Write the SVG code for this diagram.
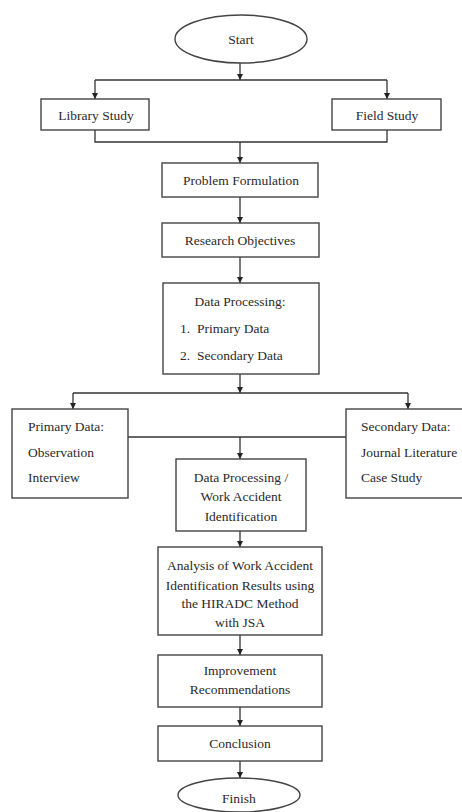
<svg xmlns="http://www.w3.org/2000/svg" width="462" height="812" viewBox="0 0 462 812">
<style>
.box{fill:#fff;stroke:#444;stroke-width:1.4}
.t{font-family:"Liberation Serif","Times New Roman",serif;font-size:13.5px;fill:#2a2a2a;text-anchor:middle}
.l{text-anchor:start}
.c{fill:none;stroke:#333;stroke-width:1.3}
</style>
<defs>
<marker id="ah" viewBox="0 0 10 10" refX="10" refY="5" markerWidth="6" markerHeight="6" markerUnits="userSpaceOnUse" orient="auto">
<path d="M0,0 L10,5 L0,10 z" fill="#222"/>
</marker>
</defs>
<rect width="462" height="812" fill="#fff"/>
<g id="connectors">
<path class="c" d="M240,63 V80" marker-end="url(#ah)"/>
<path class="c" d="M95,80 H387"/>
<path class="c" d="M95,80 V99" marker-end="url(#ah)"/>
<path class="c" d="M387,80 V99" marker-end="url(#ah)"/>
<path class="c" d="M95,130 V142 H387 V130"/>
<path class="c" d="M240,142 V163" marker-end="url(#ah)"/>
<path class="c" d="M240,197 V223" marker-end="url(#ah)"/>
<path class="c" d="M240,257 V283" marker-end="url(#ah)"/>
<path class="c" d="M240,374 V393" marker-end="url(#ah)"/>
<path class="c" d="M73,393 H408"/>
<path class="c" d="M73,393 V409" marker-end="url(#ah)"/>
<path class="c" d="M408,393 V409" marker-end="url(#ah)"/>
<path class="c" d="M128,437 H346"/>
<path class="c" d="M240,437 V459" marker-end="url(#ah)"/>
<path class="c" d="M240,531 V547" marker-end="url(#ah)"/>
<path class="c" d="M240,635 V655" marker-end="url(#ah)"/>
<path class="c" d="M240,707 V726" marker-end="url(#ah)"/>
<path class="c" d="M240,761 V778" marker-end="url(#ah)"/>
</g>
<g id="start">
<ellipse class="box" cx="241" cy="39" rx="66" ry="24"/>
<text class="t" x="241" y="44">Start</text>
</g>
<g id="library-study">
<rect class="box" x="41" y="99" width="108" height="31"/>
<text class="t" x="96" y="120">Library Study</text>
</g>
<g id="field-study">
<rect class="box" x="332" y="99" width="109" height="31"/>
<text class="t" x="387" y="120">Field Study</text>
</g>
<g id="problem-formulation">
<rect class="box" x="162" y="163" width="156" height="34"/>
<text class="t" x="241" y="185">Problem Formulation</text>
</g>
<g id="research-objectives">
<rect class="box" x="162" y="223" width="157" height="34"/>
<text class="t" x="240" y="245">Research Objectives</text>
</g>
<g id="data-processing">
<rect class="box" x="163" y="283" width="156" height="91"/>
<text class="t" x="240" y="306">Data Processing:</text>
<text class="t l" x="180" y="333">1.</text>
<text class="t l" x="197" y="333">Primary Data</text>
<text class="t l" x="180" y="360">2.</text>
<text class="t l" x="197" y="360">Secondary Data</text>
</g>
<g id="primary-data">
<rect class="box" x="12" y="409" width="116" height="89"/>
<text class="t l" x="28" y="431">Primary Data:</text>
<text class="t l" x="28" y="457">Observation</text>
<text class="t l" x="28" y="482">Interview</text>
</g>
<g id="secondary-data">
<rect class="box" x="346" y="409" width="118" height="89"/>
<text class="t l" x="361" y="431">Secondary Data:</text>
<text class="t l" x="361" y="457">Journal Literature</text>
<text class="t l" x="361" y="482">Case Study</text>
</g>
<g id="work-accident-identification">
<rect class="box" x="176" y="459" width="130" height="72"/>
<text class="t" x="241" y="482">Data Processing /</text>
<text class="t" x="241" y="501">Work Accident</text>
<text class="t" x="241" y="521">Identification</text>
</g>
<g id="analysis">
<rect class="box" x="158" y="547" width="164" height="88"/>
<text class="t" x="240" y="570">Analysis of Work Accident</text>
<text class="t" x="240" y="590">Identification Results using</text>
<text class="t" x="240" y="608">the HIRADC Method</text>
<text class="t" x="240" y="627">with JSA</text>
</g>
<g id="improvement">
<rect class="box" x="158" y="655" width="164" height="52"/>
<text class="t" x="240" y="675">Improvement</text>
<text class="t" x="240" y="694">Recommendations</text>
</g>
<g id="conclusion">
<rect class="box" x="158" y="726" width="164" height="35"/>
<text class="t" x="240" y="748">Conclusion</text>
</g>
<g id="finish">
<ellipse class="box" cx="239" cy="795" rx="61" ry="17"/>
<text class="t" x="239" y="803">Finish</text>
</g>
</svg>
